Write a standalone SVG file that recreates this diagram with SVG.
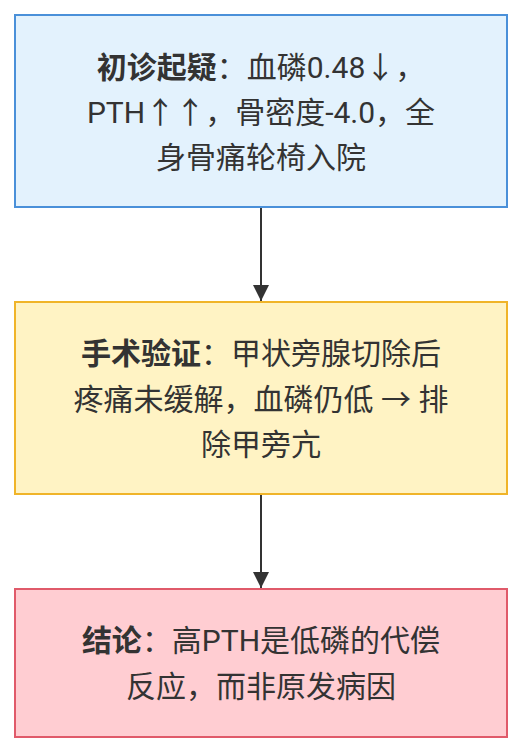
<svg xmlns="http://www.w3.org/2000/svg" width="522" height="752" viewBox="0 0 522 752">
<defs>
<style>
.box{stroke-width:2}
.t{font-family:Roboto,"Noto Sans CJK SC","Noto Sans",sans-serif;font-size:30px;fill:#333333;text-anchor:middle}
.b{font-weight:bold}
.edge{stroke:#333333;stroke-width:2;fill:none}
</style>
<marker id="ah" viewBox="0 0 16 16" refX="16" refY="8" markerWidth="16" markerHeight="16" markerUnits="userSpaceOnUse" orient="auto">
<path d="M0,0 L16,8 L0,16 z" fill="#333333"/>
</marker>
</defs>
<rect width="522" height="752" fill="#ffffff"/>
<g id="edges">
<line class="edge" x1="261" y1="208" x2="261" y2="301" marker-end="url(#ah)"/>
<line class="edge" x1="261" y1="495" x2="261" y2="588" marker-end="url(#ah)"/>
</g>
<g id="node1">
<rect class="box" x="15" y="15" width="492" height="192" fill="#e3f2fd" stroke="#4a90d9"/>
<text class="t" x="261" y="78"><tspan class="b">初诊起疑</tspan>：血磷0.48↓，</text>
<text class="t" x="261" y="123">PTH↑↑，骨密度-4.0，全</text>
<text class="t" x="261" y="168">身骨痛轮椅入院</text>
</g>
<g id="node2">
<rect class="box" x="15" y="302" width="492" height="192" fill="#fff3c4" stroke="#f0b429"/>
<text class="t" x="261" y="364"><tspan class="b">手术验证</tspan>：甲状旁腺切除后</text>
<text class="t" x="261" y="410">疼痛未缓解，血磷仍低 → 排</text>
<text class="t" x="261" y="455">除甲旁亢</text>
</g>
<g id="node3">
<rect class="box" x="15" y="589" width="492" height="148" fill="#ffcdd2" stroke="#e05a6a"/>
<text class="t" x="261" y="651"><tspan class="b">结论</tspan>：高PTH是低磷的代偿</text>
<text class="t" x="261" y="697">反应，而非原发病因</text>
</g>
</svg>
